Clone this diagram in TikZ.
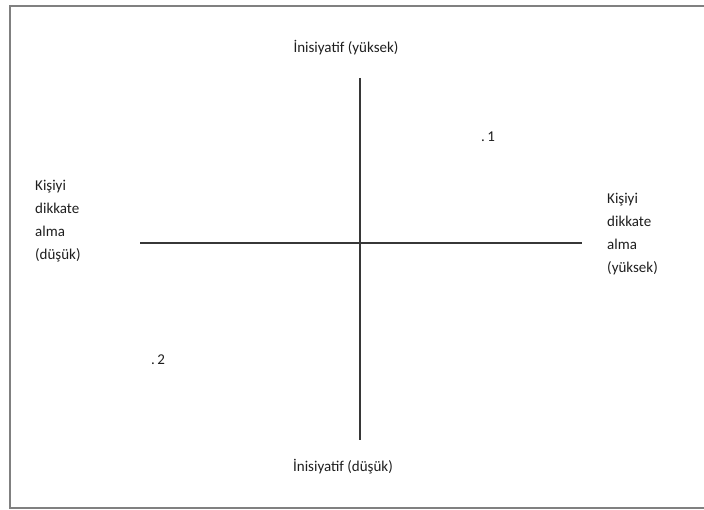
\documentclass[tikz,border=0pt]{standalone}
\usepackage{fontspec}
\setmainfont{Carlito}
\definecolor{framegray}{RGB}{128,128,128}
\definecolor{axisgray}{RGB}{55,55,55}
\definecolor{labeltext}{RGB}{30,30,30}
\begin{document}
\begin{tikzpicture}[x=1pt,y=-1pt,
  every node/.style={font=\fontsize{15}{23}\selectfont,text=labeltext,inner sep=0pt},
  frame/.style={draw=framegray,line width=2pt},
  axis/.style={draw=axisgray,line width=1.3pt},
  side/.style={align=left,anchor=north west},
]
\useasboundingbox (0,0) rectangle (704,510);

%% outer frame
\draw[frame] (712,6) -- (10,6) -- (10,508) -- (712,508);

%% axes
\coordinate (vtop) at (360,78);
\coordinate (vbot) at (360,440);
\coordinate (hleft) at (140,243);
\coordinate (hright) at (582,243);
\draw[axis] (vtop) -- (vbot);
\draw[axis] (hleft) -- (hright);

%% axis labels
\node (inihigh) at (346,48) {İnisiyatif (yüksek)};
\node (inilow) at (343,467) {İnisiyatif (düşük)};
\node[side] (kisilow) at (35,180) {Kişiyi\\dikkate\\alma\\(düşük)};
\node[side] (kisihigh) at (607,193) {Kişiyi\\dikkate\\alma\\(yüksek)};

%% points
\node (pone) at (488,137) {.\,1};
\node (ptwo) at (158,360) {.\,2};

\end{tikzpicture}
\end{document}
